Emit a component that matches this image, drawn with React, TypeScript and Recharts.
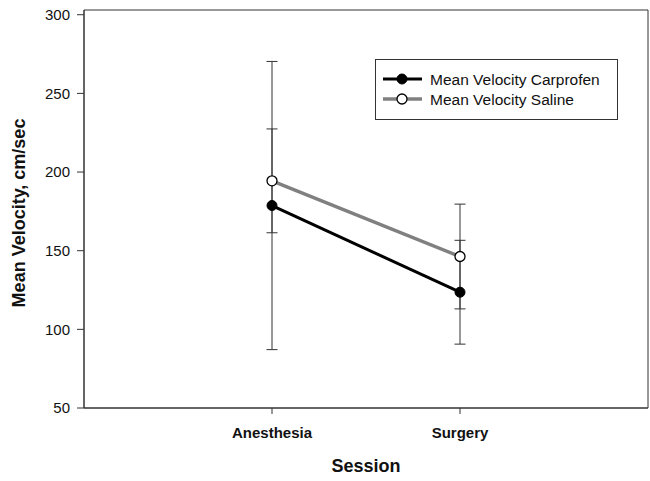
import React from 'react';
import { LineChart, Line, XAxis, YAxis, ErrorBar, ReferenceArea } from 'recharts';

const categories = ['Anesthesia', 'Surgery'];
const carprofenMean = [178.7, 123.6];
const carprofenErr = [91.6, 33];
const salineMean = [194.4, 146.3];
const salineErr = [33, 33.3];
const yTicks = [50, 100, 150, 200, 250, 300];
const seriesNames = ['Mean Velocity Carprofen', 'Mean Velocity Saline'];

const data = categories.map((c, i) => ({
  x: i + 1,
  name: c,
  car: carprofenMean[i],
  carErr: carprofenErr[i],
  sal: salineMean[i],
  salErr: salineErr[i],
}));

const FONT = '"Liberation Sans", Arial, Helvetica, sans-serif';

const LegendBox = () => (
  <svg width={244} height={62} style={{ display: 'block' }}>
    <rect x={0.5} y={0.5} width={242} height={60} fill="#fff" stroke="#333" strokeWidth={1} />
    <line x1={8} y1={20} x2={47} y2={20} stroke="#000" strokeWidth={3} />
    <circle cx={27} cy={20} r={5} fill="#000" stroke="#000" />
    <text x={55} y={20} dy="0.36em" fontSize={15.5} fontFamily={FONT} fill="#111">{seriesNames[0]}</text>
    <line x1={8} y1={40} x2={47} y2={40} stroke="#808080" strokeWidth={3.5} />
    <circle cx={27} cy={40} r={5} fill="#fff" stroke="#000" strokeWidth={1.3} />
    <text x={55} y={40} dy="0.36em" fontSize={15.5} fontFamily={FONT} fill="#111">{seriesNames[1]}</text>
  </svg>
);

const XLabel = (props: any) => {
  const vb = props.viewBox || {};
  return (
    <text x={vb.x + vb.width / 2} y={472} textAnchor="middle" fontSize={18} fontWeight="bold" fontFamily={FONT} fill="#111">
      Session
    </text>
  );
};

const YLabel = () => (
  <text x={19} y={213} transform="rotate(-90, 19, 213)" textAnchor="middle" dy="0.36em" fontSize={18} fontWeight="bold" fontFamily={FONT} fill="#111">
    Mean Velocity, cm/sec
  </text>
);

export default function App() {
  return (
    <div style={{ position: 'fixed', left: 0, top: 0, width: 650, height: 481, background: '#fff' }}>
      <LineChart width={650} height={481} data={data} margin={{ top: 10, right: 2, left: 24, bottom: 0 }}>
        <ReferenceArea x1={0} x2={3} y1={50} y2={303} fill="none" stroke="#333" strokeWidth={1} ifOverflow="visible" />
        <XAxis
          dataKey="x"
          type="number"
          domain={[0, 3]}
          ticks={[1, 2]}
          tickFormatter={(v: number) => categories[v - 1]}
          height={73}
          tickSize={6}
          tickMargin={13}
          stroke="#333"
          tick={{ fontSize: 15, fontWeight: 'bold', fontFamily: FONT, fill: '#111' }}
          label={<XLabel />}
        />
        <YAxis
          type="number"
          domain={[50, 303]}
          ticks={yTicks}
          width={60}
          tickSize={7}
          tickMargin={7}
          stroke="#333"
          interval={0}
          tick={{ fontSize: 15, fontFamily: FONT, fill: '#111' }}
          label={<YLabel />}
        />
        <Line
          dataKey="car"
          type="linear"
          stroke="#000"
          strokeWidth={3}
          dot={{ r: 5, fill: '#000', stroke: '#000', strokeWidth: 1 }}
          isAnimationActive={false}
        >
          <ErrorBar dataKey="carErr" direction="y" width={5.5} stroke="#333" strokeWidth={1} />
        </Line>
        <Line
          dataKey="sal"
          type="linear"
          stroke="#808080"
          strokeWidth={3.5}
          dot={{ r: 5, fill: '#fff', stroke: '#000', strokeWidth: 1.3 }}
          isAnimationActive={false}
        >
          <ErrorBar dataKey="salErr" direction="y" width={5.5} stroke="#333" strokeWidth={1} />
        </Line>
      </LineChart>
      <div style={{ position: 'absolute', left: 375, top: 59, width: 244, height: 62 }}>
        <LegendBox />
      </div>
    </div>
  );
}
